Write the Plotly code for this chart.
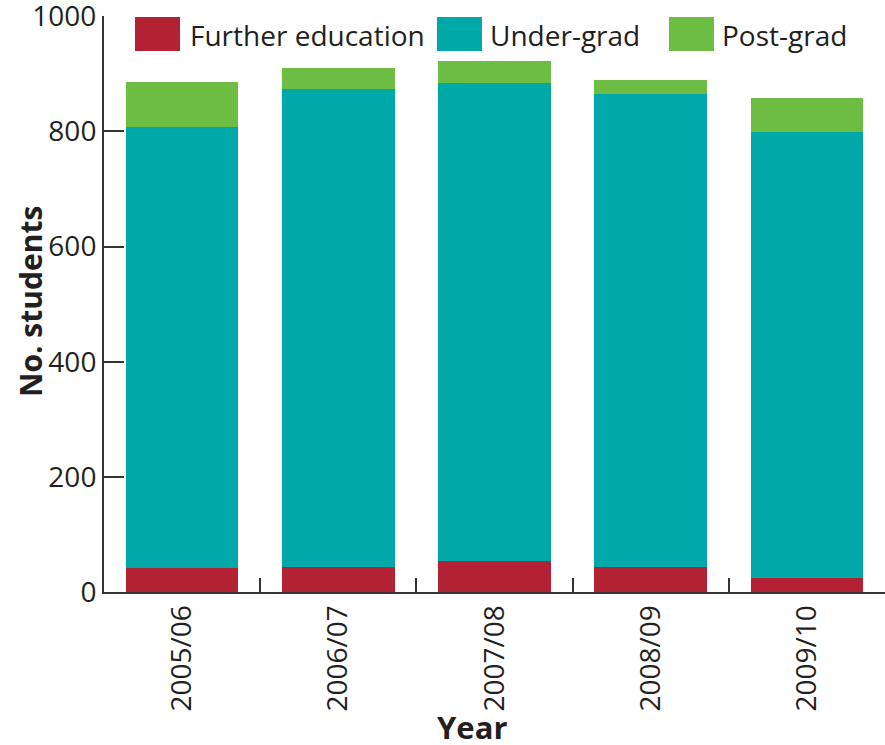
import plotly.graph_objects as go

years = ["2005/06", "2006/07", "2007/08", "2008/09", "2009/10"]
further_ed = [42, 43, 54, 43, 24]
under_grad = [765, 830, 830, 822, 775]
post_grad = [78, 38, 38, 24, 59]
series_names = ["Further education", "Under-grad", "Post-grad"]
colors = ["#B22234", "#00A8A8", "#6DBD45"]
y_ticks = [0, 200, 400, 600, 800, 1000]
x_title = "Year"
y_title = "No. students"

FONT = "Open Sans"
TXT = "#231F20"

fig = go.Figure()
for name, vals, col in zip(series_names, [further_ed, under_grad, post_grad], colors):
    fig.add_trace(go.Bar(x=years, y=vals, name=name, marker=dict(color=col, line=dict(width=0)),
                         width=0.72, showlegend=False))

# Custom legend (large swatches); positions given in page pixels of the plot area (104..885, 16..592)
PW, PH = 781, 576
leg_x = [135, 437, 669]
text_x = [188, 488, 720]
for name, col, sx, tx in zip(series_names, colors, leg_x, text_x):
    fig.add_shape(type="rect", xref="paper", yref="paper",
                  x0=(sx - 104) / PW, x1=(sx + 45 - 104) / PW,
                  y0=(592 - 51) / PH, y1=(592 - 17) / PH,
                  fillcolor=col, line=dict(width=0))
    fig.add_annotation(text=name, xref="paper", yref="paper",
                       x=(tx - 104) / PW, y=(592 - 35) / PH,
                       xanchor="left", yanchor="middle", showarrow=False,
                       font=dict(family=FONT, size=28, color=TXT))

# Axis titles
fig.add_annotation(text=f"<b>{y_title}</b>", xref="paper", yref="paper",
                   x=(30 - 104) / PW, y=(592 - 302) / PH, textangle=-90,
                   xanchor="center", yanchor="middle", showarrow=False,
                   font=dict(family=FONT, size=30, color=TXT))
fig.add_annotation(text=f"<b>{x_title}</b>", xref="paper", yref="paper",
                   x=(472 - 104) / PW, y=(592 - 727) / PH,
                   xanchor="center", yanchor="middle", showarrow=False,
                   font=dict(family=FONT, size=31, color=TXT))

fig.update_layout(
    barmode="stack",
    width=885, height=745,
    margin=dict(l=104, r=0, t=16, b=153),
    plot_bgcolor="white", paper_bgcolor="white",
    font=dict(family=FONT, color=TXT),
    xaxis=dict(
        range=[-0.5, 4.5], showline=True, linecolor="#333", linewidth=2,
        ticks="inside", ticklen=14, tickcolor="#333", tickwidth=1.5,
        tickson="boundaries", tickangle=-90, automargin=False,
        tickfont=dict(family=FONT, size=28, color=TXT),
        showgrid=False, zeroline=False,
    ),
    yaxis=dict(
        range=[0, 1000.5], tickvals=y_ticks, showline=True, linecolor="#333", linewidth=2,
        ticks="inside", ticklen=20, tickcolor="#333", tickwidth=1.5, automargin=False,
        ticklabeloverflow="allow",
        tickfont=dict(family=FONT, size=28, color=TXT),
        showgrid=False, zeroline=False,
    ),
)

fig.write_html("out.html", config={"displayModeBar": False},
               post_script="document.body.style.margin='0px';")
